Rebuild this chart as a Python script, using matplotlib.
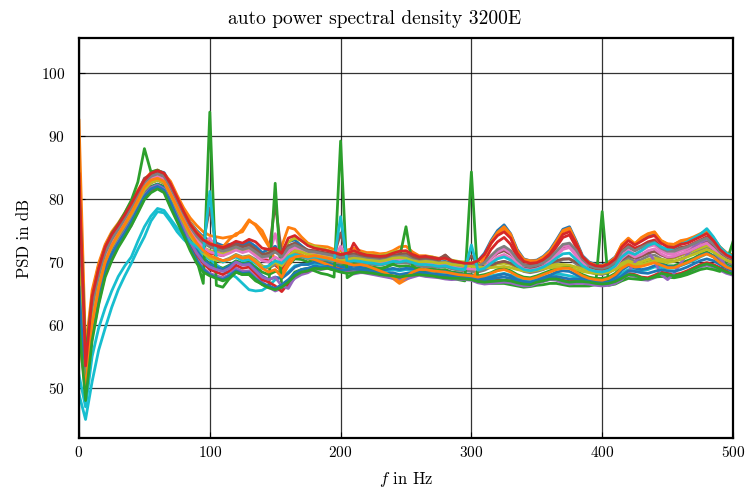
import numpy as np
import matplotlib
matplotlib.use("Agg")
import matplotlib.pyplot as plt

plt.rcParams['font.family'] = 'serif'
plt.rcParams['font.serif'] = ['cmr10']
plt.rcParams['mathtext.fontset'] = 'cm'
plt.rcParams['axes.unicode_minus'] = False
plt.rcParams['axes.formatter.use_mathtext'] = True

# frequency grid (Hz)
freq = np.arange(0, 505, 5)

psd_01 = [80, 53, 64, 68.5, 72, 74.2, 75.6, 77.3, 79, 81, 82.8,
          84, 84.5, 84.2, 82.5, 80.3, 78.2, 76.3, 75, 74, 73.4,
          73, 72.6, 72.8, 73, 72.6, 73.2, 72.5, 71.5, 72, 72.5,
          71.8, 73.2, 73.5, 72.6, 71.8, 71.6, 71.4, 71.2, 70.8, 70.5,
          70.8, 71.2, 70.9, 70.5, 70.6, 70.4, 70.6, 71, 71.2, 71.4,
          70.8, 70.4, 70.5, 70.2, 70, 70.1, 69.8, 69.6, 69.6, 69.5,
          70.2, 71.4, 73.4, 75, 75.9, 74.5, 72, 70.5, 70.2, 70.3,
          70.9, 71.9, 73.5, 75.2, 75.6, 73.4, 71, 70, 69.6, 69.5,
          70, 70.8, 72.6, 73.6, 72.8, 73.5, 74.2, 74.5, 73.2, 72.6,
          72.5, 73, 73.2, 73.7, 74.2, 74.8, 73.6, 72.2, 71.2, 70.8]
psd_02 = [92.5, 56, 65.5, 69.8, 72.8, 74.8, 76.2, 77.8, 79.6, 81.4, 83.1,
          84.2, 84.6, 84, 82.8, 80.6, 78.6, 77, 75.8, 74.8, 74.2,
          74, 73.8, 74, 74.2, 75.2, 76.7, 75.8, 74.2, 72.5, 71.5,
          72.5, 75.5, 75.2, 74, 73, 72.6, 72.5, 72.4, 72, 71.8,
          71.9, 72.2, 71.8, 71.5, 71.5, 71.3, 71.4, 71.8, 72.4, 72.5,
          71.6, 71, 71, 70.8, 70.6, 70.6, 70.2, 70, 69.8, 69.7,
          70, 71, 72.9, 74.5, 75.3, 74, 71.6, 70.2, 70, 70,
          70.6, 71.5, 73, 74.8, 75.2, 73, 70.6, 69.8, 69.4, 69.3,
          69.8, 70.6, 72.8, 73.8, 72.9, 73.8, 74.4, 74.7, 73.4, 72.8,
          72.8, 73.3, 73.4, 73.9, 74.4, 75, 73.8, 72.4, 71.4, 71]
psd_03 = [75, 50, 60, 65.5, 69.2, 71.6, 73.4, 75, 76.8, 78.8, 80.8,
          82, 82.4, 82, 80, 77.8, 75.6, 73.6, 72, 70.6, 69.8,
          69.4, 69, 69.5, 70.2, 69.8, 70, 69.2, 68.4, 68, 68.5,
          68.4, 69.5, 70.5, 70.4, 70, 70.4, 70.2, 70, 69.8, 69.5,
          69.6, 69.8, 69.6, 69.4, 69.2, 69, 69.2, 69.6, 69.3, 69.4,
          69.2, 69, 68.8, 69, 68.7, 68.8, 68.4, 68.3, 68.1, 68,
          67.8, 68, 68.3, 68.8, 69, 68.6, 68, 67.6, 67.5, 67.8,
          68.2, 68.6, 69, 69.2, 69.3, 68.6, 68, 67.6, 67.4, 67.4,
          67.6, 68.2, 69.2, 69.8, 69.4, 69.5, 70, 70.2, 69.8, 69.4,
          69.4, 69.8, 70.2, 70.6, 71.2, 71.6, 71, 70.2, 69.6, 69.2]
psd_04 = [79, 51, 61.5, 66.5, 70, 72.3, 74, 75.6, 77.3, 79.2, 81.2,
          82.6, 83, 82.5, 80.6, 78.4, 76.4, 74.6, 73.2, 72, 71.4,
          71.2, 71, 71.8, 72.4, 71.6, 72, 71.2, 70.5, 70.2, 69.5,
          68.6, 70.8, 72.2, 71.8, 71.2, 71.2, 71, 70.8, 70.6, 70.3,
          70.6, 73, 71.5, 70.8, 70.6, 70.3, 70.4, 70.8, 70.6, 70.8,
          70.2, 69.8, 69.8, 69.6, 69.4, 69.5, 69.2, 69, 68.9, 68.8,
          69, 70.2, 72, 73.2, 73.9, 72.8, 70.8, 69.5, 69.2, 69.4,
          70, 70.9, 72.4, 73.9, 74.3, 72.4, 70.2, 69.2, 68.9, 68.8,
          69.2, 70, 71.8, 72.8, 72.2, 72.6, 73.2, 73.5, 72.4, 71.8,
          71.8, 72.3, 72.5, 73, 73.5, 74, 72.9, 71.6, 70.8, 70.3]
psd_05 = [62, 48.5, 58, 63.5, 68, 70.4, 72.6, 74.2, 75.8, 78, 80,
          81.2, 81.8, 81.2, 78.8, 76.8, 74.8, 72.4, 70.6, 69, 68.2,
          67.8, 67.5, 68, 69, 68.5, 68.6, 67.6, 66.8, 66, 65.4,
          65.8, 66.4, 67.4, 68, 68.3, 68.9, 68.8, 69, 68.8, 68.6,
          68.4, 68.1, 68.3, 68.3, 68.1, 68, 67.8, 67.6, 67.2, 67.5,
          67.8, 68, 67.8, 67.8, 67.6, 67.4, 67.3, 67.4, 67.3, 67.2,
          66.8, 66.7, 66.8, 66.8, 66.9, 66.8, 66.5, 66.3, 66.3, 66.8,
          67, 67.3, 67.2, 66.8, 66.6, 66.8, 66.8, 66.6, 66.4, 66.3,
          66.4, 66.7, 67.2, 67.9, 67.7, 67.2, 67.1, 67.5, 68, 67.8,
          67.6, 67.8, 68.3, 68.8, 69.2, 69.5, 69.2, 68.7, 68.2, 67.9]
psd_06 = [83, 52, 63, 68, 71.6, 73.8, 75.4, 77, 78.8, 81, 83.3,
          83.8, 83.9, 83.4, 81.6, 79.5, 77.4, 75.6, 74.2, 73.2, 78.6,
          72.6, 72.2, 72.4, 72.6, 72.2, 72.8, 72, 71, 71.2, 79.3,
          71.2, 72.4, 72.6, 72, 71.6, 71.5, 71.3, 71.2, 71, 74.6,
          70.8, 71, 70.8, 70.6, 70.6, 70.5, 70.7, 71, 71, 71.2,
          70.6, 70.3, 70.5, 70.4, 70.2, 71.1, 70, 69.8, 69.6, 71,
          69.6, 69.8, 70.6, 71.4, 71.8, 71.2, 70.2, 69.6, 69.5, 69.6,
          70, 70.6, 71.5, 72.4, 72.6, 71.6, 70.2, 69.5, 69.2, 69.1,
          69.4, 70.2, 71.6, 72.4, 71.8, 72.4, 73, 73.2, 72.2, 71.8,
          71.8, 72.2, 72.4, 72.9, 73.3, 73.8, 72.8, 71.6, 70.9, 70.5]
psd_07 = [77, 51.5, 62.5, 67.5, 71.2, 73.5, 75, 76.6, 78.3, 80.4, 82.4,
          83.3, 83.6, 83.2, 81.4, 79.2, 77, 75.2, 73.8, 72.8, 73.8,
          72.2, 71.8, 72.2, 72.6, 72.2, 72.6, 71.6, 70.6, 70.8, 74.5,
          70.6, 71.8, 72.4, 71.8, 71.2, 71.2, 71, 70.9, 70.6, 72.5,
          70.4, 70.6, 70.4, 70.2, 70.1, 70, 70.2, 70.6, 70.6, 70.8,
          70.2, 69.9, 69.9, 69.8, 69.6, 69.7, 69.4, 69.2, 69.1, 69.8,
          69.2, 69.6, 70.6, 71.6, 72.1, 71.4, 70, 69.2, 69, 69.2,
          69.6, 70.4, 71.5, 72.5, 72.7, 71.4, 69.9, 69, 68.7, 68.6,
          68.9, 69.6, 71, 71.9, 71.2, 71.8, 72.4, 72.7, 71.8, 71.3,
          71.3, 71.8, 72, 72.5, 73, 73.5, 72.5, 71.3, 70.5, 70.1]
psd_08 = [73, 50.5, 61, 66.2, 70, 72.2, 73.8, 75.5, 77.2, 79.2, 81.3,
          82.6, 83, 82.6, 80.6, 78.5, 76.4, 74.4, 72.8, 71.6, 70.8,
          70.6, 70.2, 70.6, 71.2, 70.8, 71, 70.4, 69.4, 69, 69.6,
          69.4, 70.5, 71, 70.8, 70.5, 70.6, 70.4, 70.3, 70, 69.8,
          70, 70.2, 70, 69.8, 69.6, 69.5, 69.7, 70, 69.8, 69.9,
          69.6, 69.4, 69.2, 69.3, 69.1, 69.3, 68.9, 68.7, 68.6, 68.5,
          68.4, 68.7, 69.2, 69.8, 70.1, 69.7, 69, 68.5, 68.3, 68.5,
          68.8, 69.3, 69.9, 70.4, 70.5, 69.7, 68.9, 68.4, 68.1, 68,
          68.3, 68.9, 70, 70.6, 70.1, 70.4, 70.9, 71.1, 70.5, 70.1,
          70.1, 70.5, 70.9, 71.4, 71.9, 72.4, 71.6, 70.6, 70, 69.6]
psd_09 = [70, 50, 60.8, 66.8, 70.6, 73, 74.8, 76.5, 78.2, 80, 82,
          83, 83.4, 83, 81, 78.9, 76.8, 74.9, 73.4, 72.3, 71.8,
          71.6, 71.3, 71.8, 72.2, 71.8, 72.1, 71.5, 70.8, 71.5, 71.8,
          71.2, 73.2, 73.8, 73.4, 72.8, 72.5, 72.2, 71.9, 71.6, 71.3,
          71.5, 71.7, 71.5, 71.2, 71.1, 71, 71.2, 71.6, 71.8, 71.6,
          71, 70.7, 70.9, 70.8, 70.5, 70.6, 70.3, 70.1, 70, 69.9,
          69.7, 69.6, 69.5, 69.7, 69.8, 69.6, 69.2, 68.9, 68.8, 69,
          69.2, 69.5, 69.6, 69.6, 69.5, 69.2, 68.9, 68.7, 68.6, 68.6,
          68.8, 69.2, 69.8, 70.2, 69.8, 70, 70.4, 70.6, 70.4, 70.3,
          70.6, 71, 71.4, 71.8, 72.2, 72.6, 72.2, 71.4, 70.8, 70.4]
psd_10 = [49, 45, 51, 56, 59.5, 62.8, 65.6, 67.8, 69.8, 72, 74,
          76.5, 78, 77.8, 76.4, 74.8, 73.6, 72.6, 71.8, 71, 70.4,
          69.6, 68.6, 68.2, 67.6, 66.6, 65.6, 65.4, 65.5, 66.2, 67.2,
          67.6, 68.4, 69.4, 69.6, 69.6, 69.8, 69.6, 69.5, 69.2, 69.2,
          69, 68.8, 68.9, 68.8, 68.6, 68.4, 68.5, 68.8, 68.6, 68.8,
          68.6, 68.4, 68.3, 68.2, 68, 68.1, 67.9, 67.8, 67.6, 67.5,
          67.5, 67.6, 67.8, 68, 68.2, 67.9, 67.4, 67.1, 67, 67.3,
          67.6, 67.9, 68.1, 68, 67.8, 67.6, 67.4, 67.2, 67, 66.9,
          67.1, 67.5, 68.2, 68.8, 68.6, 68.6, 68.8, 69.2, 69.2, 69,
          69, 69.4, 69.8, 70.2, 70.8, 71.3, 70.8, 70, 69.4, 68.9]
psd_11 = [68, 49.5, 59.5, 65, 69, 71.4, 73.2, 74.8, 76.5, 78.6, 80.6,
          81.8, 82.3, 81.8, 79.8, 77.6, 75.6, 73.4, 71.8, 70.4, 69.6,
          69.2, 68.8, 69.4, 70, 69.6, 69.8, 68.8, 67.8, 67.2, 67.6,
          67.4, 68.2, 69.2, 69.6, 69.6, 70, 69.8, 69.8, 69.5, 69.2,
          69.2, 69.3, 69.2, 69, 68.8, 68.6, 68.8, 69, 68.8, 69,
          68.9, 68.7, 68.6, 68.6, 68.4, 68.5, 68.2, 68.1, 68, 67.9,
          67.6, 67.4, 67.6, 67.9, 68.1, 67.8, 67.2, 66.9, 66.8, 67.1,
          67.5, 67.9, 68.4, 68.6, 68.5, 68, 67.5, 67.1, 66.9, 66.8,
          67, 67.6, 68.7, 69.4, 69, 68.8, 69, 69.4, 69.6, 69.3,
          69.2, 69.5, 69.9, 70.4, 71, 71.4, 70.9, 70, 69.3, 68.8]
psd_12 = [86, 55, 64.8, 69.5, 72.5, 74.5, 75.8, 77.4, 79.2, 81, 82.8,
          83.8, 84.2, 83.8, 82.2, 80, 78, 76.2, 74.8, 73.8, 73,
          72.6, 72.4, 73.6, 74.5, 74.8, 76.5, 76, 75, 72.8, 70.2,
          68.2, 70, 71.5, 71.2, 70.6, 70.4, 70, 69.6, 69.2, 68.8,
          68.6, 68.4, 68.6, 68.5, 68.2, 68, 67.8, 67.4, 66.6, 67.2,
          67.8, 68, 67.9, 67.8, 67.6, 67.5, 67.4, 67.5, 67.4, 67.3,
          68.6, 71, 73.2, 74.7, 75.6, 74.4, 71.8, 70.4, 70.2, 70.2,
          70.8, 71.7, 73.3, 75, 75.4, 73.2, 70.8, 69.9, 69.5, 69.4,
          69.9, 70.7, 72.8, 73.6, 72.9, 73.9, 74.5, 74.8, 73.4, 72.9,
          72.8, 73.4, 73.6, 74, 74.5, 75, 73.8, 72.4, 71.5, 71.1]
psd_13 = [82, 55, 64, 68.8, 72.2, 74.5, 76, 77.8, 79.8, 82.7, 88,
          84.3, 84.6, 84, 81.8, 78.6, 75.2, 72.6, 70.3, 66.6, 93.8,
          66.3, 66, 67.4, 68.4, 68, 68, 67, 66.5, 66, 82.5,
          66, 67, 68.4, 68.8, 69, 68.6, 68.2, 68, 67.6, 89.2,
          67.5, 68.2, 68.6, 68.8, 68.6, 68.8, 69.2, 69.8, 70.6, 75.6,
          69.4, 68.6, 68.2, 68, 67.8, 67.6, 67.4, 67.2, 67, 84.3,
          67, 66.8, 66.6, 66.6, 66.6, 66.4, 66.2, 66, 66.1, 66.3,
          66.4, 66.6, 66.6, 66.4, 66.2, 66.2, 66.2, 66.2, 66.4, 78,
          66.3, 66.5, 67, 67.4, 67.3, 67.2, 67.4, 67.6, 67.7, 67.6,
          67.5, 67.7, 68, 68.4, 68.8, 69, 68.8, 68.5, 70, 73.2]
psd_14 = [71, 49, 58.5, 64, 68.3, 70.8, 72.8, 74.4, 76.2, 78.2, 80.3,
          81.5, 82, 81.5, 79.2, 77.2, 75.2, 73, 71.2, 69.8, 68.8,
          68.4, 68, 68.6, 69.5, 69, 69.2, 68.2, 67.2, 66.8, 66.2,
          65.3, 66.6, 67.8, 68.4, 68.6, 69.2, 69.1, 69.2, 69, 68.8,
          68.6, 68.4, 68.6, 68.6, 68.4, 68.2, 68, 67.8, 67.6, 67.8,
          68, 68.2, 68, 67.9, 67.8, 67.6, 67.5, 67.6, 67.4, 67.3,
          67, 66.9, 67, 67.1, 67.1, 67, 66.7, 66.5, 66.5, 66.9,
          67.1, 67.4, 67.4, 67.1, 66.9, 67, 67, 66.9, 66.7, 66.6,
          66.7, 67, 67.6, 68.2, 68, 67.6, 67.5, 67.9, 68.4, 68.2,
          68, 68.2, 68.6, 69.1, 69.6, 69.9, 69.6, 69.1, 68.6, 68.3]
psd_15 = [65, 50, 59, 64.5, 68.7, 71.2, 73.2, 74.8, 76.6, 78.6, 80.6,
          81.8, 82.2, 81.6, 79.4, 77.4, 75.4, 73.2, 71.4, 70, 69.2,
          68.8, 68.5, 69, 70, 69.5, 69.6, 68.6, 67.6, 67.2, 67.6,
          66.2, 65.8, 67.6, 68.4, 68.8, 69.2, 69, 69, 68.8, 68.5,
          68.3, 68.5, 68.4, 68.2, 68, 67.8, 67.6, 67.4, 67, 67.3,
          67.6, 67.9, 67.7, 67.6, 67.5, 67.3, 67.2, 67.3, 67.2, 67.1,
          66.7, 66.5, 66.6, 66.7, 66.8, 66.7, 66.4, 66.2, 66.2, 66.6,
          66.9, 67.2, 67.1, 66.7, 66.5, 66.6, 66.6, 66.5, 66.3, 66.2,
          66.3, 66.6, 67.2, 68.4, 70, 71.2, 71.6, 70.2, 68, 67.2,
          68.2, 69.8, 71.2, 72.4, 73.2, 73.3, 72.2, 70.6, 69.2, 68.2]
psd_16 = [74, 52.5, 63.2, 68.2, 71.8, 74, 75.6, 77.2, 79, 81, 82.9,
          84, 84.4, 84, 82.2, 80, 77.8, 75.8, 74.4, 73.2, 72.6,
          72.2, 71.9, 72.3, 72.8, 72.4, 72.7, 72, 71.2, 71.4, 72,
          71, 72.6, 73, 72.4, 71.9, 71.8, 71.6, 71.4, 71.2, 70.9,
          71.1, 71.3, 71.1, 70.9, 70.8, 70.6, 70.8, 71.1, 71.2, 71.3,
          70.8, 70.5, 70.7, 70.7, 70.5, 71.1, 70.2, 69.9, 69.7, 69.6,
          69.4, 69.3, 69.5, 69.9, 70.1, 69.8, 69.3, 69, 68.9, 69.1,
          69.4, 69.8, 70.2, 70.5, 70.5, 70, 69.4, 69, 68.8, 68.7,
          68.9, 69.5, 70.4, 71, 70.6, 70.9, 71.4, 71.7, 71.1, 70.7,
          70.8, 71.2, 71.6, 72.1, 72.6, 73.1, 72.4, 71.4, 70.7, 70.3]
psd_17 = [72, 51, 61.8, 67, 70.7, 72.9, 74.6, 76.2, 78, 80, 82,
          83.1, 83.5, 83.1, 81.2, 79, 76.9, 74.9, 73.4, 72.3, 71.6,
          71.3, 71, 71.4, 71.9, 71.5, 71.8, 71, 70.2, 70, 70.8,
          70.2, 71.6, 72.2, 71.8, 71.3, 71.2, 71, 70.8, 70.5, 70.2,
          70.3, 70.5, 70.3, 70.1, 70, 69.9, 70.1, 70.5, 70.4, 70.6,
          70.1, 69.8, 69.8, 69.7, 69.5, 69.7, 69.4, 69.2, 69, 68.9,
          68.9, 69.2, 70, 70.8, 71.2, 70.6, 69.6, 68.9, 68.7, 68.9,
          69.3, 70, 71, 72, 72.3, 71, 69.6, 68.8, 68.5, 68.4,
          68.6, 69.2, 70.6, 71.4, 70.8, 71.2, 71.8, 72.1, 71.3, 70.8,
          70.9, 71.3, 71.6, 72.1, 72.6, 73, 72.1, 71, 70.3, 69.9]
psd_18 = [76, 52, 62.8, 67.8, 71.4, 73.6, 75.2, 76.9, 78.6, 80.6, 82.6,
          83.6, 84, 83.6, 81.8, 79.7, 77.6, 75.6, 74.1, 73, 72.4,
          72, 71.7, 72, 72.4, 72, 72.3, 71.6, 70.8, 71, 71.6,
          70.8, 72.2, 72.7, 72.2, 71.7, 71.6, 71.4, 71.2, 71, 70.7,
          70.8, 71, 70.7, 70.5, 70.4, 70.3, 70.4, 70.8, 70.9, 71,
          70.4, 70.1, 70.2, 70.1, 69.9, 70, 69.7, 69.5, 69.3, 69.6,
          69.3, 69.9, 71, 72, 72.5, 71.8, 70.4, 69.5, 69.3, 69.5,
          69.9, 70.6, 71.7, 72.8, 73, 71.9, 70.4, 69.5, 69.1, 69,
          69.3, 70, 71.6, 72.4, 71.8, 72.3, 72.8, 73.1, 72.2, 71.7,
          71.7, 72.1, 72.4, 72.9, 73.4, 73.8, 72.9, 71.7, 70.9, 70.5]
psd_19 = [69, 50, 60.5, 66, 70, 72.4, 74.2, 75.9, 77.6, 79.5, 81.5,
          82.6, 83, 82.6, 80.6, 78.4, 76.3, 74.2, 72.6, 71.4, 70.6,
          70.3, 70, 70.5, 71.1, 70.7, 70.9, 70.2, 69.3, 69.2, 70,
          69.4, 71, 71.8, 71.6, 71.2, 71.1, 70.9, 70.7, 70.5, 70.2,
          70.4, 70.6, 70.5, 70.3, 70.2, 70.1, 70.3, 70.6, 70.7, 70.6,
          70.2, 70, 70.1, 70, 69.8, 69.9, 69.6, 69.5, 69.4, 69.3,
          69.2, 69.1, 69.1, 69.2, 69.3, 69.1, 68.8, 68.6, 68.5, 68.7,
          68.9, 69.1, 69.2, 69.1, 69, 68.8, 68.5, 68.3, 68.2, 68.2,
          68.4, 68.8, 69.4, 69.9, 69.6, 69.6, 69.9, 70.2, 70.1, 69.9,
          70.1, 70.4, 70.8, 71.2, 71.6, 72, 71.6, 70.9, 70.3, 69.9]
psd_20 = [52, 47, 55, 59.5, 62.7, 65.4, 67.7, 69.4, 70.8, 73.3, 75.6,
          77.3, 78.5, 78.2, 76.8, 75.4, 74.2, 73.2, 72.4, 71.6, 81.2,
          70.6, 70, 70.4, 70.8, 70.2, 70.4, 69.8, 69, 69.4, 70.2,
          69.8, 70.8, 71.2, 71, 70.6, 70.8, 70.6, 70.5, 70.2, 77.2,
          70, 70.2, 70.1, 69.9, 69.8, 69.6, 69.8, 70.1, 70, 70.2,
          69.9, 69.6, 69.6, 69.5, 69.3, 69.4, 69.1, 68.9, 68.8, 72.7,
          68.7, 69, 69.8, 70.5, 70.8, 70.3, 69.4, 68.8, 68.6, 68.8,
          69.2, 69.8, 70.6, 71.3, 71.4, 70.4, 69.4, 68.8, 68.5, 68.4,
          68.7, 69.4, 70.8, 71.6, 71.2, 71.8, 72.6, 73, 72.4, 72,
          72.2, 72.8, 73.2, 73.8, 74.4, 75.3, 74, 72.4, 71.4, 70.9]
psd_21 = [66, 49, 59, 64.8, 68.8, 71.2, 73, 74.6, 76.4, 78.4, 80.4,
          81.6, 82, 81.4, 79.4, 77, 74.6, 72.2, 70.2, 68.8, 68,
          67.5, 67.2, 67.8, 68.6, 68.2, 68.3, 67.3, 66.6, 66.2, 65.8,
          66.4, 67.2, 68.2, 68.8, 69, 69.4, 69.2, 69.3, 69, 68.7,
          68.8, 68.9, 68.8, 68.7, 68.5, 68.3, 68.2, 68.3, 68, 68.2,
          68.3, 68.4, 68.2, 68.1, 68, 67.9, 67.8, 67.8, 67.7, 67.6,
          67.3, 67.2, 67.3, 67.5, 67.6, 67.4, 67, 66.8, 66.7, 67,
          67.3, 67.6, 67.7, 67.5, 67.3, 67.3, 67.2, 67, 66.8, 66.7,
          66.8, 67.1, 67.8, 68.6, 68.5, 68.3, 68.2, 68.5, 68.8, 68.6,
          68.5, 68.8, 69.2, 69.7, 70.2, 70.5, 70.2, 69.6, 69, 68.6]
psd_22 = [58, 50, 60, 65.8, 70, 72.6, 74.4, 76, 77.8, 79.8, 81.9,
          83, 83.3, 82.8, 80.8, 78.7, 76.6, 74.6, 73, 71.8, 71,
          70.6, 70.2, 70.4, 71, 70.6, 70.8, 70, 69, 68.4, 68.8,
          67.6, 69.4, 70.8, 71, 70.8, 71, 70.8, 70.6, 70.3, 70,
          69.8, 69.5, 69.6, 69.4, 69, 68.6, 68.2, 67.6, 66.8, 67.6,
          68.4, 68.8, 68.8, 68.6, 68.5, 68.4, 68.2, 68, 67.9, 67.8,
          67.6, 67.8, 68.2, 68.6, 68.8, 68.4, 67.8, 67.4, 67.3, 67.6,
          68, 68.4, 68.8, 69, 69, 68.4, 67.8, 67.4, 67.2, 67.1,
          67.4, 68, 69, 69.6, 69.2, 69.3, 69.6, 69.9, 69.5, 69.1,
          69.1, 69.5, 69.9, 70.4, 70.9, 71.3, 70.8, 69.9, 69.2, 68.8]
psd_23 = [60, 48, 57.5, 63.2, 67.6, 70.2, 72.3, 74, 75.8, 77.8, 79.9,
          81, 81.6, 81, 78.6, 76.4, 74.2, 71.8, 69.8, 68.4, 67.8,
          67.4, 67, 67.4, 68.4, 68, 68.1, 67.2, 66.4, 65.9, 65.6,
          66, 66.8, 67.8, 68.4, 68.6, 69, 68.9, 69, 68.7, 68.4,
          68.2, 68.3, 68.4, 68.3, 68.2, 68, 67.9, 67.8, 67.6, 67.8,
          67.9, 68, 67.9, 67.8, 67.6, 67.5, 67.4, 67.4, 67.3, 67.2,
          66.9, 66.8, 66.9, 67, 67.1, 67, 66.7, 66.5, 66.4, 66.8,
          67, 67.3, 67.3, 67, 66.8, 66.9, 66.9, 66.8, 66.6, 66.5,
          66.6, 66.9, 67.4, 68, 67.9, 67.5, 67.3, 67.7, 68.2, 68,
          67.8, 68, 68.4, 68.9, 69.4, 69.7, 69.4, 68.9, 68.4, 68.1]
psd_24 = [84, 53.5, 64.5, 69, 72.4, 74.4, 75.9, 77.5, 79.3, 81.2, 83,
          84.1, 84.5, 84.1, 82.4, 80.2, 78, 76, 74.6, 73.5, 72.9,
          72.6, 72.3, 72.7, 73.3, 73, 73.6, 73.2, 72.2, 72, 72.2,
          71.4, 73.8, 74.2, 73.4, 72.6, 72.2, 72, 71.8, 71.5, 71.2,
          71.4, 71.8, 71.4, 71.1, 71, 70.9, 71, 71.4, 71.7, 71.8,
          71.2, 70.8, 70.9, 70.7, 70.5, 70.6, 70.2, 70, 69.8, 69.8,
          70.2, 71.2, 73, 74.2, 74.8, 73.8, 71.4, 70.1, 69.8, 69.9,
          70.4, 71.3, 72.8, 74.4, 74.8, 73, 70.8, 69.8, 69.4, 69.3,
          69.7, 70.5, 72.4, 73.4, 72.7, 73.3, 73.9, 74.2, 73, 72.4,
          72.3, 72.8, 73, 73.5, 74, 74.5, 73.4, 72, 71.1, 70.6]

all_psd = [psd_01, psd_02, psd_03, psd_04, psd_05, psd_06, psd_07, psd_08,
           psd_09, psd_10, psd_11, psd_12, psd_13, psd_14, psd_15, psd_16,
           psd_17, psd_18, psd_19, psd_20, psd_21, psd_22, psd_23, psd_24]

x_ticks = [0, 100, 200, 300, 400, 500]
y_ticks = [50, 60, 70, 80, 90, 100]

fig = plt.figure(figsize=(7.49, 4.94), dpi=100)
ax = fig.add_axes([0.1055, 0.1134, 0.8731, 0.8096])

for s in all_psd:
    ax.plot(freq, s, lw=2.0)

ax.set_xlim(0, 500)
ax.set_ylim(42.06, 105.56)
ax.set_xticks(x_ticks)
ax.set_yticks(y_ticks)
ax.grid(True, color='black', lw=0.9, alpha=0.8)
ax.tick_params(direction='in', labelsize=11, length=4)
ax.tick_params(axis='y', pad=10)
ax.tick_params(axis='x', pad=5)
for sp in ax.spines.values():
    sp.set_linewidth(1.6)

fig.text(0.5, 1 - 24.5 / 494, 'auto power spectral density 3200E',
         fontsize=14, ha='center', va='baseline')
ax.set_xlabel('$f$ in Hz', fontsize=12, labelpad=7)
ax.set_ylabel('PSD in dB', fontsize=12, labelpad=6)

fig.savefig('out.png', dpi=100)
